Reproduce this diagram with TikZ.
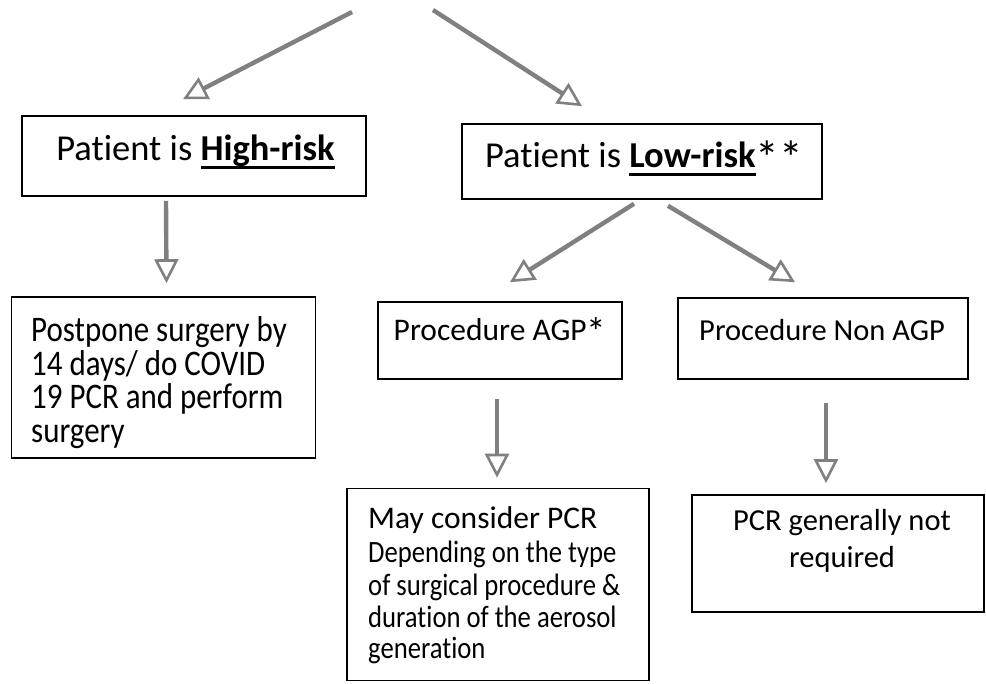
\documentclass[tikz,border=0pt]{standalone}
\usepackage{fontspec}
\setmainfont{Carlito}[Ligatures=NoCommon]
\newfontfamily\condfont{Carlito}[FakeStretch=0.86, Ligatures=NoCommon]
\usetikzlibrary{arrows.meta,calc}
\newcommand\myul[1]{\setbox0=\hbox{#1}\rlap{\vrule height -5.2pt depth 7.6pt width \wd0}\box0}
\tikzset{
  box/.style={draw=black, line width=1.6pt, inner sep=0pt},
  flow/.style={draw=black!50, line width=4.4pt,
    -{Triangle[open,length=24pt,width=24pt,line width=2.6pt]}},
  big/.style={font=\fontsize{36.5}{42}\selectfont, inner sep=0pt, anchor=base},
  mid/.style={font=\fontsize{30.5}{36}\selectfont, inner sep=0pt},
  cond/.style={font=\condfont\fontsize{36}{40}\selectfont, inner sep=0pt},
  condsmall/.style={font=\condfont\fontsize{31}{36}\selectfont, inner sep=0pt},
}
\begin{document}
\begin{tikzpicture}[x=1pt,y=-1pt]
\useasboundingbox[fill=white] (0,0) rectangle (986,684);

% boxes
\node[box, minimum width=344pt, minimum height=80pt] (hr) at (194,156) {};
\node[box, minimum width=360pt, minimum height=75pt] (lr) at (642,161.5) {};
\node[box, minimum width=304pt, minimum height=161pt] (pp) at (163.5,377.5) {};
\node[box, minimum width=244pt, minimum height=77pt] (agp) at (500,340.5) {};
\node[box, minimum width=290pt, minimum height=81pt] (nagp) at (823,338.5) {};
\node[box, minimum width=302pt, minimum height=192pt] (may) at (498,584.5) {};
\node[box, minimum width=292pt, minimum height=117pt] (pcr) at (838,553.5) {};

% texts
\node[big] (hrt) at (195.5,161) {Patient is \myul{\textbf{High-risk}}};
\node[big] (lrt) at (644,168) {Patient is \myul{\textbf{Low-risk}}\raisebox{-7pt}{\scalebox{1.3}{**}}};
\node[mid, font=\fontsize{31.5}{36}\selectfont, anchor=base] (agpt) at (500,341) {Procedure AGP\raisebox{-5pt}{\scalebox{1.25}{*}}};
\node[mid, anchor=base] (nagpt) at (822,341) {Procedure Non AGP};

\node[cond, anchor=base west] (pp1) at (31,342) {Postpone surgery by};
\node[cond, anchor=base west] (pp2) at (31,375.5) {14 days/ do COVID};
\node[cond, anchor=base west] (pp3) at (31,409) {19 PCR and perform};
\node[cond, anchor=base west] (pp4) at (31,442.5) {surgery};

\node[mid, font=\fontsize{31.5}{36}\selectfont, anchor=base west] (m1) at (368,529) {May consider PCR};
\node[condsmall, anchor=base west] (m2) at (368,562) {Depending on the type};
\node[condsmall, anchor=base west] (m3) at (368,595) {of surgical procedure \&};
\node[condsmall, anchor=base west] (m4) at (368,627) {duration of the aerosol};
\node[condsmall, anchor=base west] (m5) at (368,658) {generation};

\node[mid, anchor=base] (p1) at (842,531) {PCR generally not};
\node[mid, anchor=base] (p2) at (842,567) {required};

% connectors
\coordinate (s1) at (352,12);
\coordinate (s2) at (433,10);
\draw[flow] (s1) -- ($(hr.north)+(-11,-16)$);
\draw[flow] (s2) -- ($(lr.north)+(-60,-17)$);
\draw[flow] ($(hr.south)+(-28,4)$) -- ($(pp.north)+(3,-13)$);
\draw[flow] ($(lr.south)+(-8,4)$) -- ($(agp.north)+(10,-19)$);
\draw[flow] ($(lr.south)+(26,6)$) -- ($(nagp.north)+(-28,-15)$);
\draw[flow] ($(agp.south)+(-3,19)$) -- ($(may.north)+(-1,-10)$);
\draw[flow] ($(nagp.south)+(3,23)$) -- ($(pcr.north)+(-12,-11)$);
\end{tikzpicture}
\end{document}
